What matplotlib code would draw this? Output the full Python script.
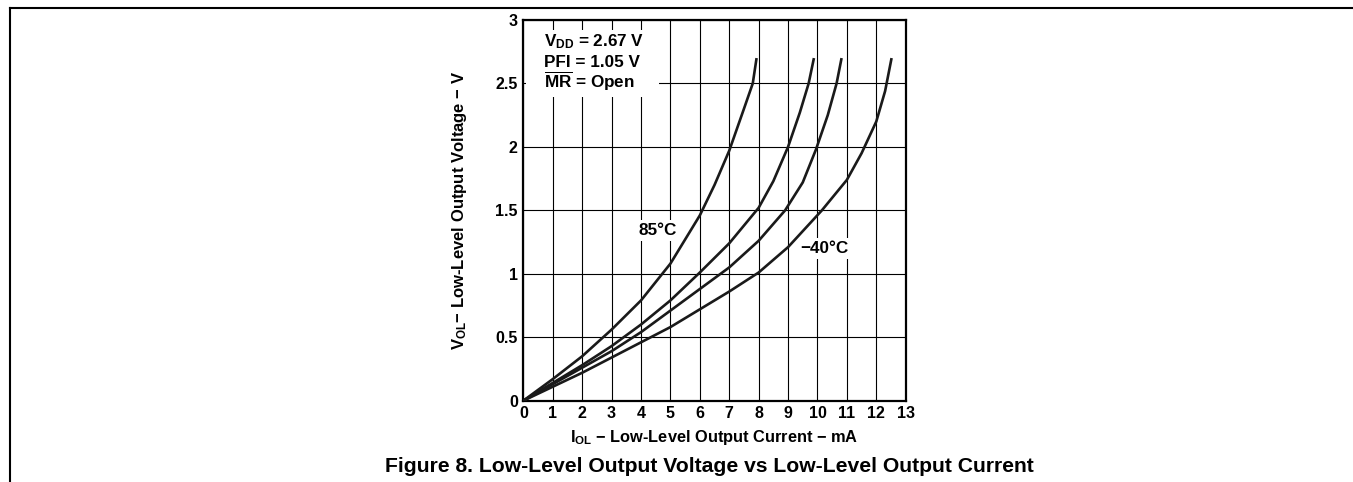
import matplotlib
matplotlib.use('Agg')
import matplotlib.pyplot as plt
from matplotlib.lines import Line2D
from matplotlib.patches import Rectangle

plt.rcParams['font.family'] = ['Liberation Sans', 'DejaVu Sans']
plt.rcParams['font.weight'] = 'bold'
plt.rcParams['mathtext.fontset'] = 'custom'
plt.rcParams['mathtext.rm'] = 'Liberation Sans:bold'
plt.rcParams['mathtext.bf'] = 'Liberation Sans:bold'
plt.rcParams['mathtext.it'] = 'Liberation Sans:bold'

# I_OL (mA) vs V_OL (V), 85C -> -40C
i_85 = [0, 1, 2, 3, 4, 5, 6, 6.5, 7, 7.5, 7.8, 7.93]
v_85 = [0, 0.17, 0.35, 0.56, 0.79, 1.08, 1.46, 1.7, 1.97, 2.3, 2.5, 2.7]

i_b = [0, 1, 2, 3, 4, 5, 6, 7, 8, 8.5, 9.0, 9.4, 9.7, 9.88]
v_b = [0, 0.14, 0.28, 0.43, 0.6, 0.79, 1.01, 1.24, 1.52, 1.73, 2.0, 2.27, 2.5, 2.7]

i_c = [0, 1, 2, 3, 4, 5, 6, 7, 8, 8.9, 9.5, 9.95, 10.35, 10.65, 10.82]
v_c = [0, 0.13, 0.26, 0.39, 0.54, 0.71, 0.88, 1.05, 1.26, 1.5, 1.72, 1.98, 2.25, 2.5, 2.7]

i_m40 = [0, 1, 2, 3, 4, 5, 6, 7, 8, 9, 10.15, 11, 11.5, 12, 12.3, 12.52]
v_m40 = [0, 0.11, 0.22, 0.34, 0.46, 0.58, 0.72, 0.86, 1.01, 1.21, 1.5, 1.74, 1.95, 2.2, 2.44, 2.7]

curves = [(i_85, v_85), (i_b, v_b), (i_c, v_c), (i_m40, v_m40)]

x_ticks = list(range(0, 14))
y_ticks = [0, 0.5, 1, 1.5, 2, 2.5, 3]
y_tick_labels = ['0', '0.5', '1', '1.5', '2', '2.5', '3']

fig = plt.figure(figsize=(13.53, 4.82), dpi=100)
ax = fig.add_axes([0.3868, 0.1687, 0.2826, 0.7898])

for xs, ys in curves:
    ax.plot(xs, ys, color='#1a1a1a', linewidth=1.9, zorder=3,
            solid_capstyle='butt', solid_joinstyle='round')

ax.set_xlim(0, 13)
ax.set_ylim(0, 3)
ax.set_xticks(x_ticks)
ax.set_yticks(y_ticks)
ax.set_yticklabels(y_tick_labels)
ax.tick_params(length=0, labelsize=11.5, pad=4)
for lbl in ax.get_xticklabels() + ax.get_yticklabels():
    lbl.set_fontweight('bold')
ax.set_axisbelow(True)
ax.grid(True, color='black', linewidth=0.8)
for sp in ax.spines.values():
    sp.set_linewidth(1.6)

# condition block, white box over the grid
ax.add_patch(Rectangle((0.1, 2.39), 4.5, 0.53, facecolor='white',
                       edgecolor='none', zorder=1.5))
ax.text(0.7, 2.79, r'$\mathregular{V_{DD}}$ = 2.67 V', fontsize=12.3,
        fontweight='bold', va='baseline', zorder=4)
ax.text(0.7, 2.63, 'PFI = 1.05 V', fontsize=12.3, fontweight='bold',
        va='baseline', zorder=4)
ax.text(0.7, 2.465, r'$\overline{\mathregular{MR}}$ = Open', fontsize=12.3,
        fontweight='bold', va='baseline', zorder=4)

box = dict(facecolor='white', edgecolor='none', pad=2)
ax.text(4.58, 1.34, '85°C', fontsize=12.3, fontweight='bold', ha='center',
        va='center', bbox=box, zorder=2)
ax.text(10.25, 1.2, '\u221240°C', fontsize=12.3, fontweight='bold', ha='center',
        va='center', bbox=box, zorder=2)

ax.set_xlabel(r'$\mathregular{I_{OL}}$ $-$ Low-Level Output Current $-$ mA',
              fontsize=11.8, fontweight='bold', labelpad=5)
ax.set_ylabel(r'$\mathregular{V_{OL}}$$-$ Low-Level Output Voltage $-$ V',
              fontsize=12, fontweight='bold', labelpad=19)

fig.text(0.524, 0.032, 'Figure 8. Low-Level Output Voltage vs Low-Level Output Current',
         ha='center', va='center', fontsize=15.2, fontweight='bold')

# page frame lines
fig.add_artist(Line2D([0.0074, 1.0], [0.9834, 0.9834], color='black',
                      linewidth=1.5, transform=fig.transFigure))
fig.add_artist(Line2D([0.0074, 0.0074], [0.0, 0.9834], color='black',
                      linewidth=1.5, transform=fig.transFigure))

fig.savefig('out.png', dpi=100)
plt.close(fig)
